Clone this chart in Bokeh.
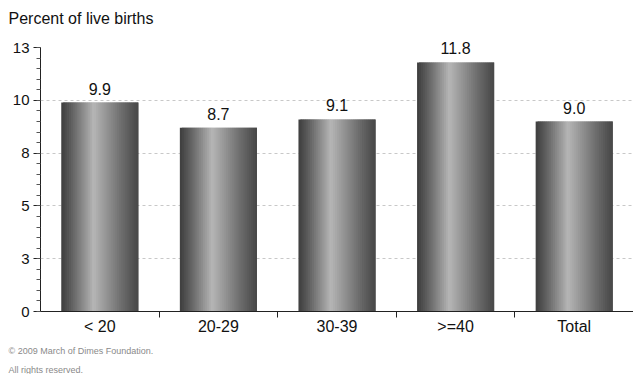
from bokeh.plotting import figure
from bokeh.models import Range1d, FixedTicker, Title, ColumnDataSource
from bokeh.embed import file_html
from bokeh.resources import INLINE
from bokeh.core.properties import value

# ---- data ----
categories = ["< 20", "20-29", "30-39", ">=40", "Total"]
values = [9.9, 8.7, 9.1, 11.8, 9.0]
value_labels = ["9.9", "8.7", "9.1", "11.8", "9.0"]
y_ticks = [0, 2.5, 5, 7.5, 10, 12.5]
y_tick_labels = ["0", "3", "5", "8", "10", "13"]
title_text = "Percent of live births"
footer_lines = ["\u00a9 2009 March of Dimes Foundation.", "All rights reserved."]

FONT = "Liberation Sans"
n = len(categories)
bar_w = 0.65

p = figure(width=633, height=374, output_backend="svg", toolbar_location=None,
           x_range=Range1d(0, n), y_range=Range1d(0, 13.5),
           min_border_left=40, min_border_right=0, min_border_top=26, min_border_bottom=63)
p.outline_line_color = None
p.background_fill_color = "white"
p.border_fill_color = "white"

# ---- gradient bars built from thin slices ----
N = 40
peak = 0.42
lo_l, lo_r, hi = 62, 72, 182
xs, tops, widths, colors = [], [], [], []
for j, v in enumerate(values):
    left = j + 0.5 - bar_w / 2
    sw = bar_w / N
    for k in range(N):
        t = (k + 0.5) / N
        if t < peak:
            s = t / peak
            b = lo_l + (hi - lo_l) * s ** 1.1
        else:
            s = (1 - t) / (1 - peak)
            b = lo_r + (hi - lo_r) * s ** 1.1
        b = int(round(b))
        if k < N - 1:
            xs.append(left + k * sw + sw)
            widths.append(sw * 2)
        else:
            xs.append(left + k * sw + sw / 2)
            widths.append(sw)
        tops.append(v)
        colors.append("#%02x%02x%02x" % (b, b, b))
p.vbar(x=xs, top=tops, width=widths, bottom=0, fill_color=colors, line_color=None)

# value labels
src = ColumnDataSource(dict(x=[j + 0.5 for j in range(n)], y=values, t=value_labels))
p.text(x="x", y="y", text="t", source=src, text_align="center", text_baseline="bottom",
       y_offset=-8, text_font=value(FONT), text_font_size="16px", text_color="#111111")

# ---- axes ----
xa = p.xaxis[0]
xa.ticker = FixedTicker(ticks=[j + 0.5 for j in range(n)], minor_ticks=list(range(1, n)))
xa.major_label_overrides = {j + 0.5: c for j, c in enumerate(categories)}
xa.major_tick_out = 0
xa.major_tick_in = 0
xa.minor_tick_out = 6
xa.minor_tick_in = 0
xa.minor_tick_line_color = "#222222"
xa.axis_line_color = "#222222"
xa.major_label_text_font = FONT
xa.major_label_text_font_size = "16px"
xa.major_label_text_color = "#111111"
xa.major_label_standoff = 0

ya = p.yaxis[0]
minor = [i * 0.5 for i in range(int(y_ticks[-1] / 0.5) + 1)]
ya.ticker = FixedTicker(ticks=y_ticks, minor_ticks=minor)
ya.bounds = (y_ticks[0], y_ticks[-1])
ya.major_label_overrides = {t: l for t, l in zip(y_ticks, y_tick_labels)}
ya.major_tick_out = 7
ya.major_tick_in = 0
ya.minor_tick_out = 4
ya.minor_tick_in = 0
ya.minor_tick_line_color = "#555555"
ya.major_tick_line_color = "#222222"
ya.axis_line_color = "#222222"
ya.major_label_text_font = FONT
ya.major_label_text_font_size = "15px"
ya.major_label_text_color = "#111111"
ya.major_label_standoff = 4

p.xgrid.grid_line_color = None
p.ygrid.ticker = FixedTicker(ticks=y_ticks[1:-1])
p.ygrid.grid_line_color = "#c8c8c8"
p.ygrid.grid_line_dash = "3 3"

# ---- title & footer ----
p.title.text = title_text
p.title.align = "left"
p.title.offset = -32
p.title.text_font = FONT
p.title.text_font_size = "16px"
p.title.text_font_style = "normal"
p.title.text_color = "#111111"
p.title.standoff = 0

for line, so in zip(footer_lines, [13, 0]):
    p.add_layout(Title(text=line, align="left", offset=-32, text_font=FONT,
                       text_font_size="9px", text_font_style="normal",
                       text_color="#8a8a8a", standoff=so), "below")

open("out.html", "w").write(file_html(p, INLINE))
